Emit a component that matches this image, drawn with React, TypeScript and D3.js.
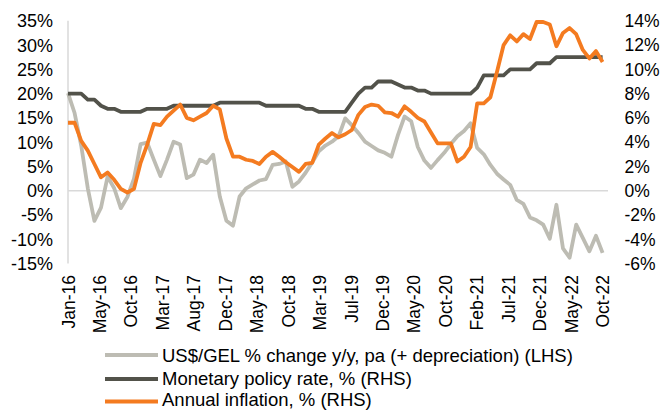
import React from 'react';
import * as d3 from 'd3';

// monthly observations, Jan-16 .. Oct-22
const usdGel = [
  20.1, 16.0, 9.3, 0.5, -6.2, -3.5, 2.9, 0.5, -3.6, -1.3, 2.5, 9.6,
  9.9, 6.4, 3.0, 6.4, 10.1, 9.5, 2.6, 3.3, 6.4, 5.7, 7.4, -1.2,
  -6.2, -7.2, -1.2, 0.5, 1.3, 2.1, 2.4, 5.3, 5.5, 6.0, 0.8, 1.9,
  3.7, 5.8, 8.1, 9.3, 10.1, 11.2, 14.9, 13.5, 11.9, 10.1, 9.2, 8.3,
  7.8, 7.0, 11.5, 15.3, 14.3, 9.0, 6.2, 4.7, 6.3, 7.8, 9.6, 11.2,
  12.3, 13.9, 8.8, 7.5, 5.3, 3.5, 2.3, 1.2, -1.9, -2.7, -5.5, -6.1,
  -7.0, -9.9, -2.9, -11.9, -13.8, -7.0, -9.7, -12.5, -9.3, -12.8,
];

const policyRate = [
  8.0, 8.0, 8.0, 7.5, 7.5, 7.0, 6.75, 6.75, 6.5, 6.5, 6.5, 6.5,
  6.75, 6.75, 6.75, 6.75, 7.0, 7.0, 7.0, 7.0, 7.0, 7.0, 7.0, 7.25,
  7.25, 7.25, 7.25, 7.25, 7.25, 7.25, 7.0, 7.0, 7.0, 7.0, 7.0, 7.0,
  6.75, 6.75, 6.5, 6.5, 6.5, 6.5, 6.5, 7.25, 8.0, 8.5, 8.5, 9.0,
  9.0, 9.0, 8.75, 8.5, 8.5, 8.25, 8.25, 8.0, 8.0, 8.0, 8.0, 8.0,
  8.0, 8.0, 8.5, 9.5, 9.5, 9.5, 9.5, 10.0, 10.0, 10.0, 10.0, 10.5,
  10.5, 10.5, 11.0, 11.0, 11.0, 11.0, 11.0, 11.0, 11.0, 11.0,
];

const inflation = [
  5.6, 5.6, 4.1, 3.3, 2.2, 1.1, 1.5, 0.9, 0.15, -0.15, 0.15, 2.3,
  3.8, 5.5, 5.4, 6.1, 6.6, 7.1, 6.0, 5.8, 6.1, 6.4, 7.0, 6.7,
  4.3, 2.8, 2.8, 2.55, 2.45, 2.2, 2.8, 3.2, 2.8, 2.35, 1.95, 1.55,
  2.2, 2.3, 3.8, 4.3, 4.75, 4.4, 4.65, 5.0, 6.25, 6.9, 7.1, 7.0,
  6.45, 6.4, 6.1, 6.95, 6.5, 6.0, 5.7, 4.8, 3.9, 3.9, 3.9, 2.4,
  2.8, 3.6, 7.2, 7.2, 7.7, 9.8, 12.0, 12.8, 12.3, 12.9, 12.5, 13.9,
  13.9, 13.7, 11.9, 13.0, 13.4, 12.9, 11.6, 10.9, 11.5, 10.6,
];

const xTickLabels = [
  'Jan-16', 'May-16', 'Oct-16', 'Mar-17', 'Aug-17', 'Dec-17', 'May-18', 'Oct-18', 'Mar-19',
  'Jul-19', 'Dec-19', 'May-20', 'Oct-20', 'Feb-21', 'Jul-21', 'Dec-21', 'May-22', 'Oct-22',
];
const leftTicks = [35, 30, 25, 20, 15, 10, 5, 0, -5, -10, -15];
const rightTicks = [14, 12, 10, 8, 6, 4, 2, 0, -2, -4, -6];

const seriesNames = [
  'US$/GEL % change y/y, pa (+ depreciation) (LHS)',
  'Monetary policy rate, % (RHS)',
  'Annual inflation, % (RHS)',
];
const colors = ['#bdbcb3', '#52524a', '#f47b20'];

const W = 660;
const H = 410;
const FONT = '"Liberation Sans", Arial, sans-serif';

const App: React.FC = () => {
  const n = usdGel.length;
  const x = d3.scaleLinear().domain([0, n - 1]).range([68, 602.6]);
  const yL = d3.scaleLinear().domain([-15, 35]).range([263.5, 20.8]);
  const yR = d3.scaleLinear().domain([-6, 14]).range([263.5, 20.8]);

  const lineL = d3.line<number>().x((_, i) => x(i)).y(d => yL(d));
  const lineR = d3.line<number>().x((_, i) => x(i)).y(d => yR(d));

  const tickStep = (n - 1) / (xTickLabels.length - 1);
  const legendLineY = [355, 379, 401.5];
  const legendTextY = [361.5, 385, 406];

  return (
    <svg width={W} height={H} style={{ position: 'absolute', left: 0, top: 0, background: '#fff' }} fontFamily={FONT}>
      {/* axes */}
      <line x1={x(0)} x2={x(0)} y1={yL(35)} y2={yL(-15)} stroke="#d9d9d9" strokeWidth={1.5} />
      <line x1={x(0)} x2={608} y1={yL(0)} y2={yL(0)} stroke="#d9d9d9" strokeWidth={1.5} />

      {leftTicks.map(t => (
        <text key={'l' + t} x={53} y={yL(t)} dy="0.36em" textAnchor="end" fontSize={18} fill="#000">
          {t}%
        </text>
      ))}
      {rightTicks.map(t => (
        <text key={'r' + t} x={624.5} y={yR(t)} dy="0.36em" textAnchor="start" fontSize={17.5} fill="#000">
          {t}%
        </text>
      ))}
      {xTickLabels.map((lab, k) => (
        <text
          key={lab}
          transform={`translate(${x(k * tickStep) + 6.5},275) rotate(-90)`}
          textAnchor="end"
          fontSize={17.5}
          fill="#000"
        >
          {lab}
        </text>
      ))}

      {/* series */}
      <path d={lineL(usdGel) || ''} fill="none" stroke={colors[0]} strokeWidth={3.8} strokeLinejoin="round" />
      <path d={lineR(policyRate) || ''} fill="none" stroke={colors[1]} strokeWidth={3.8} strokeLinejoin="round" />
      <path d={lineR(inflation) || ''} fill="none" stroke={colors[2]} strokeWidth={3.8} strokeLinejoin="round" />

      {/* legend */}
      {seriesNames.map((name, i) => (
        <g key={name}>
          <line x1={105} x2={158} y1={legendLineY[i]} y2={legendLineY[i]} stroke={colors[i]} strokeWidth={3.8} />
          <text x={162} y={legendTextY[i]} fontSize={18.5} fill="#000">
            {name}
          </text>
        </g>
      ))}
    </svg>
  );
};

export default App;
